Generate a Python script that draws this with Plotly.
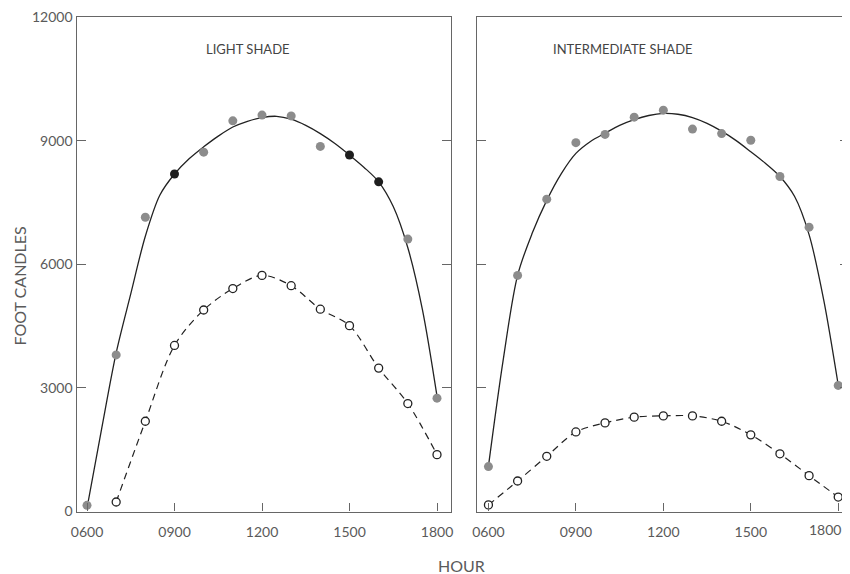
import plotly.graph_objects as go

# ---- data ----
hours = [6, 7, 8, 9, 10, 11, 12, 13, 14, 15, 16, 17, 18]
tick_vals_x = [6, 9, 12, 15, 18]
tick_text_x = ["0600", "0900", "1200", "1500", "1800"]
tick_vals_x2 = [6, 9, 12, 15]
tick_text_x2 = ["0600", "0900", "1200", "1500"]
tick_vals_x2_last = [18]
tick_text_x2_last = ["1800"]
tick_vals_y = [0, 3000, 6000, 9000, 12000]
tick_text_y = ["0", "3000", "6000", "9000", "12000"]

light_filled = [150, 3800, 7140, 8190, 8720, 9480, 9620, 9600, 8860, 8650, 8000, 6610, 2750]
light_dark_pts = [False, False, False, True, False, False, False, False, False, True, True, False, False]
light_open_hours = [7, 8, 9, 10, 11, 12, 13, 14, 15, 16, 17, 18]
light_open = [230, 2190, 4030, 4890, 5410, 5730, 5480, 4910, 4510, 3480, 2620, 1380]

inter_filled = [1090, 5730, 7580, 8950, 9150, 9570, 9740, 9280, 9170, 9010, 8130, 6900, 3060]
inter_open = [160, 740, 1340, 1930, 2150, 2290, 2320, 2320, 2190, 1860, 1400, 870, 350]

fit_hours = [6.0, 6.5, 7.0, 7.5, 8.0, 8.5, 9.0, 9.5, 10.0, 10.5, 11.0, 11.5, 12.0,
             12.5, 13.0, 13.5, 14.0, 14.5, 15.0, 15.5, 16.0, 16.5, 17.0, 17.5, 18.0]
light_fit = [80, 2000, 3850, 5280, 6680, 7680, 8190, 8560, 8850, 9110, 9330, 9470, 9560,
             9590, 9520, 9370, 9170, 8930, 8650, 8350, 8000, 7400, 6400, 4900, 2800]
inter_fit = [1100, 3650, 5730, 6750, 7550, 8200, 8690, 8980, 9180, 9370, 9510, 9610, 9660,
             9640, 9560, 9420, 9230, 9000, 8730, 8450, 8130, 7650, 6720, 5140, 3070]

panel_titles = ["LIGHT SHADE", "INTERMEDIATE SHADE"]

# ---- styling ----
FONT = "Lato, 'Open Sans', sans-serif"
GRAY_PT = "#8c8c8c"
DARK_PT = "#1e1e1e"
FRAME = "#666666"
TXT = "#5a5a5a"

fig = go.Figure()

# Left panel: light shade
fig.add_trace(go.Scatter(x=fit_hours, y=light_fit, mode="lines",
                         line=dict(color="#222", width=1.3, shape="spline", smoothing=0.9),
                         xaxis="x", yaxis="y", hoverinfo="skip"))
fig.add_trace(go.Scatter(x=light_open_hours, y=light_open, mode="lines+markers",
                         line=dict(color="#222", width=1.2, dash="7px,5px", shape="spline", smoothing=0.9),
                         marker=dict(symbol="circle", size=8, color="white",
                                     line=dict(color="#222", width=1.3)),
                         xaxis="x", yaxis="y"))
fig.add_trace(go.Scatter(x=hours, y=light_filled, mode="markers",
                         marker=dict(size=9, color=[DARK_PT if d else GRAY_PT for d in light_dark_pts],
                                     line=dict(width=0)),
                         xaxis="x", yaxis="y"))

# Right panel: intermediate shade
fig.add_trace(go.Scatter(x=fit_hours, y=inter_fit, mode="lines",
                         line=dict(color="#222", width=1.3, shape="spline", smoothing=0.9),
                         xaxis="x2", yaxis="y2", hoverinfo="skip"))
fig.add_trace(go.Scatter(x=hours, y=inter_open, mode="lines+markers",
                         line=dict(color="#222", width=1.2, dash="7px,5px", shape="spline", smoothing=0.9),
                         marker=dict(symbol="circle", size=8, color="white",
                                     line=dict(color="#222", width=1.3)),
                         xaxis="x2", yaxis="y2"))
fig.add_trace(go.Scatter(x=hours, y=inter_filled, mode="markers",
                         marker=dict(size=9, color=GRAY_PT, line=dict(width=0)),
                         xaxis="x3", yaxis="y2"))

# page body has an 8px margin, so the figure is drawn offset by 8px
OFF = 8
W, H = 850 - OFF, 574 - OFF


def px(x):
    return (x - OFF) / W


def py(y):
    return 1 - (y - OFF) / H


ydom = [py(511.5), py(17)]
xdom1 = [px(76.5), px(451)]
xdom2 = [px(476.5), px(849.3)]
x2range = [5.59, 18.38]

xcommon = dict(ticks="inside", ticklen=8,
               tickcolor=FRAME, tickwidth=1, showline=True, linecolor=FRAME, linewidth=1.2,
               mirror=True, showgrid=False, zeroline=False, automargin=False,
               ticklabeloverflow="allow", ticklabelstandoff=8,
               tickfont=dict(family=FONT, size=14, color=TXT))
ycommon = dict(range=[0, 12000], tickvals=tick_vals_y, ticktext=tick_text_y, ticks="inside",
               ticklen=9, tickcolor=FRAME, tickwidth=1, showline=True, linecolor=FRAME,
               linewidth=1.2, mirror="ticks", showgrid=False, zeroline=False, domain=ydom,
               automargin=False, ticklabeloverflow="allow",
               tickfont=dict(family=FONT, size=14, color=TXT))

ann = dict(xref="paper", yref="paper", showarrow=False, xanchor="center", yanchor="middle")

fig.update_layout(
    width=W, height=H,
    margin=dict(l=0, r=0, t=0, b=0, autoexpand=False),
    paper_bgcolor="white", plot_bgcolor="white",
    showlegend=False,
    xaxis=dict(xcommon, tickvals=tick_vals_x, ticktext=tick_text_x, domain=xdom1,
               range=[5.64, 18.48], anchor="y"),
    yaxis=dict(ycommon, anchor="x", showticklabels=True),
    xaxis2=dict(xcommon, tickvals=tick_vals_x, ticktext=tick_text_x2 + [""], domain=xdom2,
                range=x2range, anchor="y2"),
    # overlay axis carrying only the last label, nudged left so it stays in view
    xaxis3=dict(overlaying="x2", anchor="y2", range=x2range, tickvals=tick_vals_x2_last,
                ticktext=tick_text_x2_last, ticks="", showline=False, showgrid=False,
                zeroline=False, automargin=False, ticklabeloverflow="allow",
                ticklabelstandoff=8, ticklabelshift=-13,
                tickfont=dict(family=FONT, size=14, color=TXT)),
    yaxis2=dict(ycommon, anchor="x2", showticklabels=False),
    annotations=[
        dict(ann, text=panel_titles[0], x=px(247.5), y=py(49.5),
             font=dict(family=FONT, size=13, color="#444")),
        dict(ann, text=panel_titles[1], x=px(622.5), y=py(49.5),
             font=dict(family=FONT, size=13, color="#444")),
        dict(ann, text="FOOT CANDLES", textangle=-90, x=px(19.5), y=py(286),
             font=dict(family=FONT, size=16, color=TXT)),
        dict(ann, text="HOUR", x=px(461), y=py(565),
             font=dict(family=FONT, size=16, color=TXT)),
    ],
)

fig.write_html("out.html")
